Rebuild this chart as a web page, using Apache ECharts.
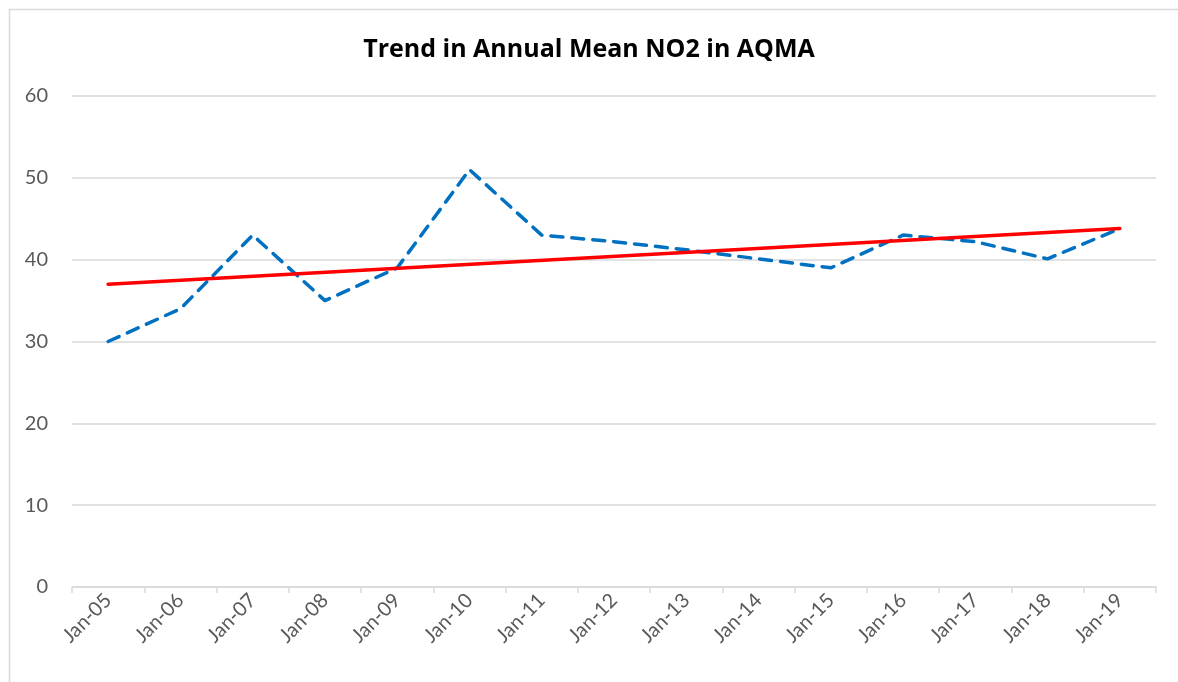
<!DOCTYPE html>
<html>
<head>
<meta charset="utf-8">
<script src="https://cdn.jsdelivr.net/npm/echarts@6/dist/echarts.min.js"></script>
<style>
  html, body { margin: 0; padding: 0; background: #fff; }
  #chart { width: 1178px; height: 682px; }
</style>
</head>
<body>
<div id="chart"></div>
<script>
// categories (x axis)
var years = ['Jan-05', 'Jan-06', 'Jan-07', 'Jan-08', 'Jan-09', 'Jan-10', 'Jan-11', 'Jan-12',
  'Jan-13', 'Jan-14', 'Jan-15', 'Jan-16', 'Jan-17', 'Jan-18', 'Jan-19']
// annual mean NO2 (dashed blue)
var no2 = [30, 34, 43, 35, 39, 51, 43, 42.2, 41.2, 40.1, 39, 43, 42.2, 40.1, 43.8]
// trend line end points (first and last category)
var trendEnds = [37.0, 43.8]

// trend line: only the two ends, joined across the gap
var trendData = years.map(function (y, i) {
  if (i === 0) return trendEnds[0]
  if (i === years.length - 1) return trendEnds[1]
  return null
})

var chart = echarts.init(document.getElementById('chart'))
chart.setOption({
  animation: false,
  backgroundColor: '#fff',
  textStyle: { fontFamily: 'Lato, "Open Sans", sans-serif' },
  title: {
    text: 'Trend in Annual Mean NO2 in AQMA',
    left: 'center',
    top: 32,
    textStyle: { fontSize: 25, fontWeight: 'bold', color: '#000', fontFamily: '"Open Sans", Lato, sans-serif' }
  },
  graphic: [{
    type: 'rect',
    left: 7,
    top: 7,
    shape: { width: 1200, height: 700 },
    style: { fill: 'none', stroke: '#d9d9d9', lineWidth: 1.5 },
    silent: true
  }],
  grid: { left: 72, right: 22, top: 96, bottom: 95, containLabel: false, outerBoundsMode: 'none' },
  xAxis: {
    type: 'category',
    data: years,
    boundaryGap: true,
    axisLine: { lineStyle: { color: '#d9d9d9', width: 1.5 } },
    axisTick: { show: true, length: 6, lineStyle: { color: '#d9d9d9', width: 1.5 } },
    axisLabel: { rotate: 45, color: '#595959', fontSize: 20, margin: 10, interval: 0 }
  },
  yAxis: {
    type: 'value',
    min: 0,
    max: 60,
    interval: 10,
    axisLine: { show: false },
    axisTick: { show: false },
    axisLabel: { color: '#595959', fontSize: 20, margin: 24 },
    splitLine: { lineStyle: { color: '#d9d9d9', width: 1.5 } }
  },
  series: [
    {
      name: 'NO2',
      type: 'line',
      data: no2,
      symbol: 'none',
      lineStyle: { color: '#0070c0', width: 3.5, type: [12, 9], cap: 'round' }
    },
    {
      name: 'Trend',
      type: 'line',
      data: trendData,
      connectNulls: true,
      symbol: 'none',
      lineStyle: { color: '#ff0000', width: 3.5, cap: 'round' }
    }
  ]
})
</script>
</body>
</html>
